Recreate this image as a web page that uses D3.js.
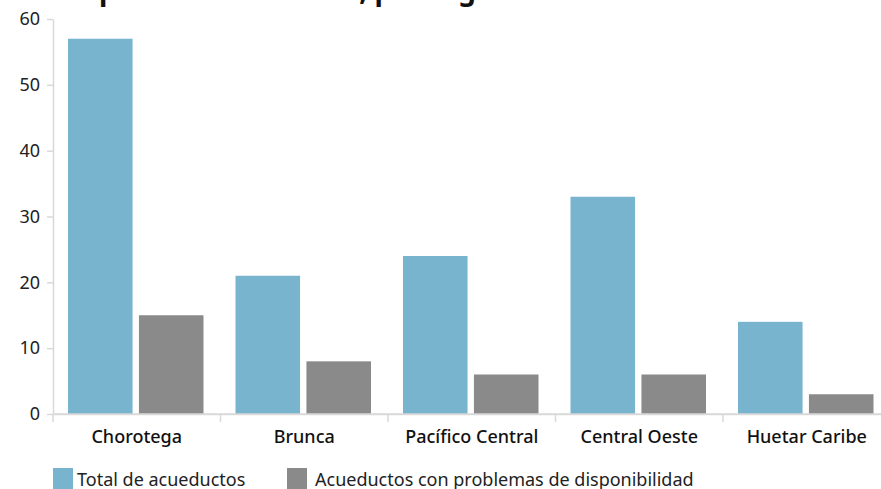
<!DOCTYPE html>
<meta charset="utf-8">
<title>Disponibilidad hídrica, por región</title>
<style>
  html, body { margin: 0; padding: 0; background: #fff; }
  svg { display: block; font-family: 'Noto Sans', 'Open Sans', sans-serif; }
  .title { font-size: 28px; font-weight: 700; fill: #111; }
  .y-axis, .x-axis { font-family: 'Noto Sans', 'Open Sans', sans-serif; }
  .y-axis text { font-size: 18px; fill: #222; }
  .x-axis text { font-size: 18px; font-weight: 500; fill: #111; }
  .domain, .tick line { stroke: #d9d9d9; stroke-width: 1.5px; }
  .legend text { font-size: 18px; fill: #222; }
</style>
<svg width="881" height="489"></svg>
<script src="https://cdn.jsdelivr.net/npm/d3@7"></script>
<script>
  'use strict'
  // chart values
  const regions = ['Chorotega', 'Brunca', 'Pacífico Central', 'Central Oeste', 'Huetar Caribe']
  const totalAcueductos = [57, 21, 24, 33, 14]
  const conProblemas = [15, 8, 6, 6, 3]
  const seriesNames = ['Total de acueductos', 'Acueductos con problemas de disponibilidad']
  const seriesColors = ['#79b4ce', '#8a8a8a']
  const yTicks = [0, 10, 20, 30, 40, 50, 60]

  const margin = { top: 19, right: -9.5, bottom: 75, left: 53 }
  const svg = d3.select('svg')
  const width = +svg.attr('width') - margin.left - margin.right
  const height = +svg.attr('height') - margin.top - margin.bottom

  // title sits mostly above the visible area
  svg.append('text')
    .attr('class', 'title')
    .attr('x', 56)
    .attr('y', 0)
    .text('Disponibilidad hídrica, por región')

  const g = svg.append('g').attr('transform', `translate(${margin.left},${margin.top})`)

  const x = d3.scaleBand().domain(regions).range([0, width])
  const y = d3.scaleLinear().domain([0, 60]).range([height, 0])
  const xs = d3.scaleBand().domain(seriesNames).range([15, x.bandwidth() - 17]).paddingInner(0.09)

  g.append('g')
    .attr('class', 'y-axis')
    .call(d3.axisLeft(y).tickValues(yTicks).tickSize(6).tickSizeOuter(0).tickPadding(7))
    .attr('font-family', null)

  g.append('g')
    .attr('class', 'x-axis')
    .attr('transform', `translate(0,${height})`)
    .call(d3.axisBottom(x).tickSize(0).tickSizeOuter(0).tickPadding(16))
    .attr('font-family', null)

  // separators between categories
  g.append('g')
    .selectAll('line')
    .data(regions)
    .join('line')
    .attr('x1', d => x(d)).attr('x2', d => x(d))
    .attr('y1', height).attr('y2', height + 8)
    .attr('stroke', '#d9d9d9').attr('stroke-width', 1.5)

  const rows = regions.map((r, i) => ({ region: r, values: [totalAcueductos[i], conProblemas[i]] }))

  g.append('g')
    .selectAll('g')
    .data(rows)
    .join('g')
    .attr('transform', d => `translate(${x(d.region)},0)`)
    .selectAll('rect')
    .data(d => d.values.map((v, i) => ({ key: seriesNames[i], value: v, color: seriesColors[i] })))
    .join('rect')
    .attr('x', d => xs(d.key))
    .attr('width', xs.bandwidth())
    .attr('y', d => y(d.value))
    .attr('height', d => y(0) - y(d.value))
    .attr('fill', d => d.color)

  // redraw baseline over bars
  g.append('line')
    .attr('x1', 0).attr('x2', width)
    .attr('y1', height).attr('y2', height)
    .attr('stroke', '#d9d9d9').attr('stroke-width', 1.5)

  const legend = svg.append('g').attr('class', 'legend')
  const legendX = [53, 287]
  seriesNames.forEach((name, i) => {
    const lg = legend.append('g').attr('transform', `translate(${legendX[i]},468)`)
    lg.append('rect').attr('width', 20).attr('height', 21).attr('fill', seriesColors[i])
    lg.append('text').attr('x', i === 0 ? 24 : 28).attr('y', 18).text(name)
  })
</script>
